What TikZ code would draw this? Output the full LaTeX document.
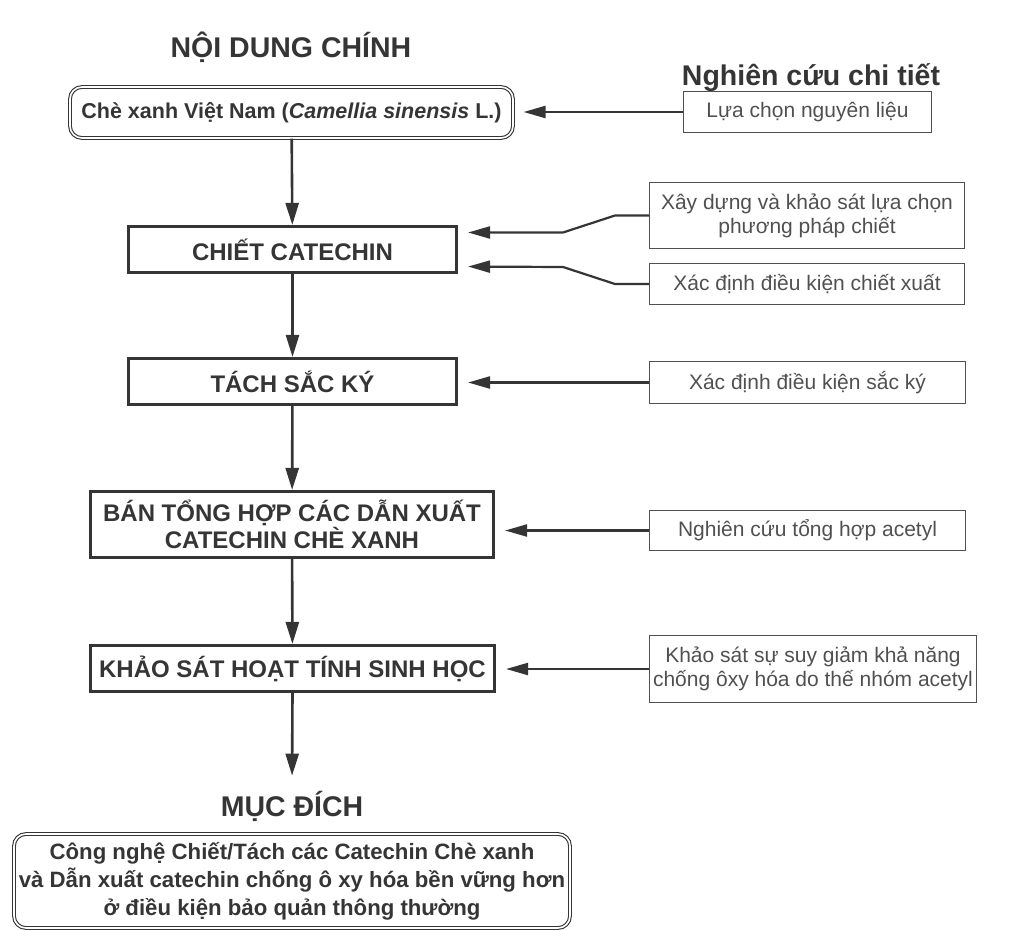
\documentclass[tikz,border=0pt]{standalone}
\usepackage{fontspec}
\setmainfont{Liberation Sans}
\usetikzlibrary{arrows.meta}
\definecolor{ink}{HTML}{353535}
\definecolor{softink}{HTML}{505050}
\tikzset{
  headline/.style={font=\bfseries\fontsize{28.5}{32}\selectfont, text=ink, inner sep=0pt},
  mainbox/.style={draw=ink, line width=2.6pt, inner sep=0pt, align=center, text=ink,
    font=\bfseries\fontsize{24}{27}\selectfont},
  sidebox/.style={draw=softink, line width=1pt, inner sep=0pt, align=center, text=softink,
    font=\fontsize{21}{24}\selectfont},
  roundbox/.style={draw=ink, line width=1.1pt, double=white, double distance=1.6pt,
    rounded corners=12pt, inner sep=0pt, align=center, text=ink},
  flow/.style={ink, line width=2.6pt, -{Triangle[length=22pt,width=13pt]}},
  feed/.style={ink, line width=2.2pt, -{Triangle[length=22pt,width=12pt]}, shorten >=10pt},
}
\begin{document}
\begin{tikzpicture}[x=1pt,y=-1pt]
      \useasboundingbox (0,0) rectangle (1009,931) ;
      % headings
      \node[headline] (main) at (291,47) {NỘI DUNG CHÍNH} ;
      \node[headline] (detail) at (811,78) {Nghiên cứu chi tiết} ;
      \node[headline] (muc) at (292,806) {MỤC ĐÍCH} ;
      % main column
      \node[roundbox, minimum width=443pt, minimum height=51pt, %
        font=\bfseries\fontsize{21.5}{24}\selectfont] %
        (che) at (291.5,112.5) {Chè xanh Việt Nam (\textit{Camellia sinensis} L.)} ;
      \node[mainbox, minimum width=328.5pt, minimum height=46.5pt] (chiet) at (292.5,249.5) {CHIẾT CATECHIN} ;
      \node[mainbox, minimum width=328.5pt, minimum height=46.5pt] (tach) at (292.5,381.5) {TÁCH SẮC KÝ} ;
      \node[mainbox, minimum width=403.5pt, minimum height=66.5pt] (ban) at (292,524.5) %
        {BÁN TỔNG HỢP CÁC DẪN XUẤT\\CATECHIN CHÈ XANH} ;
      \node[mainbox, minimum width=404.5pt, minimum height=46.5pt] (khao) at (292.5,668.5) {KHẢO SÁT HOẠT TÍNH SINH HỌC} ;
      \node[roundbox, minimum width=556pt, minimum height=94pt, %
        font=\bfseries\fontsize{22.2}{28}\selectfont] (goal) at (292,881) %
        {Công nghệ Chiết/Tách các Catechin Chè xanh\\
         và Dẫn xuất catechin chống ô xy hóa bền vững hơn\\
         ở điều kiện bảo quản thông thường} ;
      % detail column
      \node[sidebox, minimum width=248pt, minimum height=41pt] (r1) at (807.5,112) {Lựa chọn nguyên liệu} ;
      \node[sidebox, minimum width=315pt, minimum height=66pt] (r2) at (807,215.5) %
        {Xây dựng và khảo sát lựa chọn\\phương pháp chiết} ;
      \node[sidebox, minimum width=315pt, minimum height=41pt] (r3) at (807,284) {Xác định điều kiện chiết xuất} ;
      \node[sidebox, minimum width=316pt, minimum height=42pt] (r4) at (807.5,382.5) {Xác định điều kiện sắc ký} ;
      \node[sidebox, minimum width=316pt, minimum height=40pt] (r5) at (807.5,530.5) {Nghiên cứu tổng hợp acetyl} ;
      \node[sidebox, minimum width=327pt, minimum height=67pt] (r6) at (813,669) %
        {Khảo sát sự suy giảm khả năng\\chống ôxy hóa do thế nhóm acetyl} ;
      % flow
      \draw[flow] (che) -- (chiet) ;
      \draw[flow] (chiet) -- (tach) ;
      \draw[flow] (tach) -- (ban) ;
      \draw[flow] (ban) -- (khao) ;
      \draw[flow, shorten >=15pt] (khao.south) -- (muc.north) ;
      % inputs
      \draw[feed] (r1.west) -- (r1.west -| che.east) ;
      \draw[feed] (r2.west) -- ++(-34,0) -- ++(-52,17) -- ([yshift=17pt]chiet.east) ;
      \draw[feed] (r3.west) -- ++(-34,0) -- ++(-52,-17) -- ([yshift=-17pt]chiet.east) ;
      \draw[feed] (r4.west) -- (r4.west -| tach.east) ;
      \draw[feed] (r5.west) -- (r5.west -| ban.east) ;
      \draw[feed] (r6.west) -- (r6.west -| khao.east) ;
    \end{tikzpicture}
\end{document}
